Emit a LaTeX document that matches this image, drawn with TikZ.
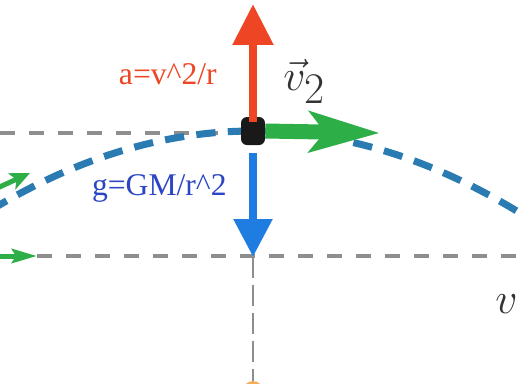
\documentclass[tikz,border=0pt]{standalone}
\usepackage{fontspec}
\setmainfont{Liberation Serif}
\usetikzlibrary{arrows.meta}

\definecolor{accred}{HTML}{EE4524}
\definecolor{gravblue}{HTML}{1F7DE2}
\definecolor{velgreen}{HTML}{2EAE47}
\definecolor{pathblue}{HTML}{2A7BB2}
\definecolor{guidegray}{HTML}{8E8E8E}
\definecolor{labelblue}{HTML}{2B45C4}
\definecolor{dotorange}{HTML}{F0A040}

\begin{document}
\begin{tikzpicture}[x=0.02cm,y=-0.02cm,
	guide/.style={draw=guidegray,line width=1.8pt,dash pattern=on 8.5pt off 8pt},
	vecarrow/.style={line width=0.17cm},
	lbl/.style={inner sep=0pt,font=\fontsize{18}{20}\selectfont}]
	\useasboundingbox (0,0) rectangle (525,383);
	\clip (0,0) rectangle (525,383);
	
	\coordinate (tl) at (0,133);
	\coordinate (bl) at (37,256);
	\coordinate (br) at (530,256);
	\coordinate (gtip) at (253,257);
	\coordinate (bot) at (253,383);
	\coordinate (atip) at (253,4);
	\coordinate (vtip) at (380,133);
	
	% guide lines
	\draw [guide] (tl) -- (241,133);
	\draw [guide] (bl) -- (br);
	\draw [guide,line width=1.2pt,dash pattern=on 12pt off 4pt] (gtip) -- (bot);
	
	% trajectory
	\draw [pathblue,line width=4pt,dash pattern=on 11pt off 7pt]
		plot [domain=-10:540,samples=80] (\x,{131+11.5*((\x-253)/100)^2});
	
	% cut-off pieces at the edges
	\draw [velgreen,line width=0.1cm,-{Stealth[length=0.4cm,width=0.35cm,inset=0.1cm]}] (-20,196) -- (30,173);
	\draw [velgreen,line width=0.1cm,-{Stealth[length=0.5cm,width=0.28cm,inset=0.08cm]}] (-20,256) -- (bl);
	\fill [dotorange!85] (253,391) circle [radius=10];
	
	\node (p) at (253,131) [fill=black!90,rounded corners=0.12cm,minimum width=0.48cm,minimum height=0.56cm,inner sep=0pt] {};
	
	\begin{scope}[every path/.style={vecarrow}]
		\draw [velgreen,line width=0.3cm,-{Stealth[length=1.4cm,width=0.8cm,inset=0.3cm]}] (p.east) -- (vtip);
		\draw [accred,shorten <=-0.1cm,-{Triangle[length=0.82cm,width=0.78cm]}] (p.north) -- (atip);
		\draw [gravblue,shorten <=0.15cm,-{Triangle[length=0.76cm,width=0.74cm]}] (p.south) -- (gtip);
	\end{scope}
	
	\node [lbl,text=accred,anchor=base east] (alabel) at (217,84) {a=v\textasciicircum 2/r};
	\node [lbl,text=labelblue,anchor=base east] (glabel) at (227,195) {g=GM/r\textasciicircum 2};
	\node [inner sep=0pt,anchor=base west,text=black!80,font=\fontsize{36}{40}\selectfont] (vlabel) at (283,90) {$\vec{v}_2$};
	\node [inner sep=0pt,anchor=base west,text=black!80,font=\fontsize{34}{38}\selectfont] (vright) at (495,313) {$v$};
\end{tikzpicture}
\end{document}
